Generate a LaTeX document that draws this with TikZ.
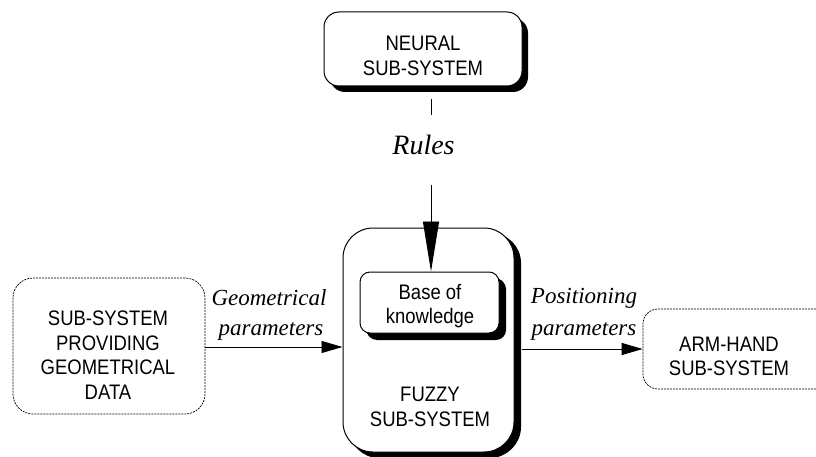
\documentclass[tikz,border=0pt]{standalone}
\usepackage{fontspec}
\setmainfont{Liberation Serif}
\newfontfamily\boxfont[FakeStretch=0.88]{Liberation Sans}
\usetikzlibrary{arrows.meta,shadows}
\begin{document}
\begin{tikzpicture}[x=1pt,y=-1pt,
  boxtext/.style={font=\boxfont\fontsize{21}{24.5}\selectfont, align=center, inner sep=0pt},
  solidbox/.style={draw=black, line width=1pt, fill=white, inner sep=0pt,
    drop shadow={shadow xshift=6pt, shadow yshift=-6pt, opacity=1, fill=black}},
  dotbox/.style={draw=black, line width=0.7pt, dash pattern=on 2pt off 1pt,
    rounded corners=20pt, inner sep=0pt},
  flowlabel/.style={font=\itshape\fontsize{23}{26}\selectfont, anchor=base, inner sep=0pt},
  flow/.style={line width=0.9pt, -{Triangle[length=21pt,width=12pt]}}
]
\clip (0,0) rectangle (816,457);
\fill[white] (0,0) rectangle (816,457);

% Neural sub-system
\node[solidbox, rounded corners=15pt, minimum width=198pt, minimum height=74pt]
      (neural) at (423,49) {};
\node[boxtext] (neuraltext) at (423,56) {NEURAL\\SUB-SYSTEM};

% Fuzzy sub-system with its knowledge base
\node[solidbox, rounded corners=30pt, minimum width=171pt, minimum height=224pt,
      drop shadow={shadow xshift=7pt, shadow yshift=-5pt, opacity=1, fill=black}]
      (fuzzy) at (428.5,340) {};
\node[boxtext] (fuzzytext) at (430,407) {FUZZY\\SUB-SYSTEM};
\node[solidbox, rounded corners=10pt, minimum width=139pt, minimum height=61pt,
      drop shadow={shadow xshift=7pt, shadow yshift=-7pt, opacity=1, fill=black}]
      (base) at (429.5,302.5) {};
\node[boxtext] (basetext) at (430,306) {Base of\\knowledge};

% Data source and actuator
\node[dotbox, minimum width=192pt, minimum height=136pt] (geo) at (109,346) {};
\node[boxtext] (geotext) at (108,355) {SUB-SYSTEM\\PROVIDING\\GEOMETRICAL\\DATA};
\node[dotbox, rounded corners=15pt, minimum width=200pt, minimum height=80pt]
      (arm) at (743,349) {};
\node[boxtext] (armtext) at (729,356.5) {ARM-HAND\\SUB-SYSTEM};

% Rules flowing from the neural part into the knowledge base
\coordinate (rtop) at (431,99);
\coordinate (rbot) at (431,115);
\coordinate (rstart) at (431,185);
\node[flowlabel, font=\itshape\fontsize{28}{30}\selectfont] (rules) at (423.5,155) {Rules};
\draw[line width=0.9pt] (rtop) -- (rbot);
\draw[line width=0.9pt, -{Triangle[length=50pt,width=16pt]}]
  (rstart) -- (base.north -| rstart);

% Parameter flows
\draw[flow] (geo.east |- 0,347) -- (fuzzy.west |- 0,347);
\node[flowlabel] (geolab1) at (269,305) {Geometrical};
\node[flowlabel] (geolab2) at (271,335) {parameters};

\draw[flow] ([xshift=7pt]fuzzy.east |- arm.west) -- (arm.west);
\node[flowlabel] (poslab1) at (584,303) {Positioning};
\node[flowlabel] (poslab2) at (584,335) {parameters};
\end{tikzpicture}
\end{document}
